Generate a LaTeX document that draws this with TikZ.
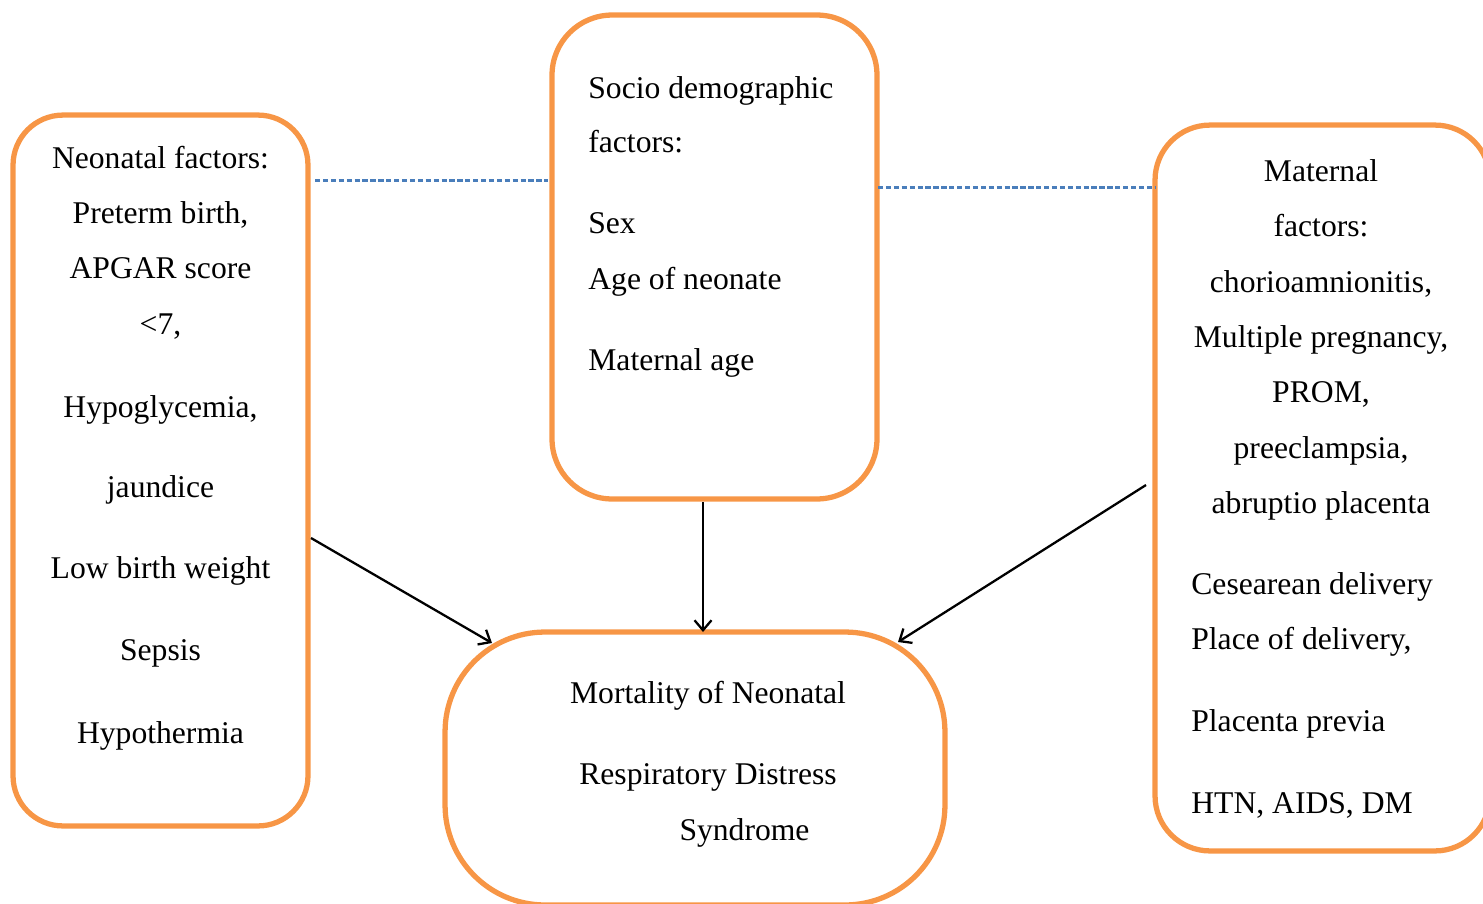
\documentclass[tikz,border=0pt]{standalone}
\usepackage{fontspec}
\setmainfont{Liberation Serif}
\usetikzlibrary{arrows.meta}
\definecolor{boxorange}{HTML}{F79646}
\definecolor{dashblue}{HTML}{4A7EBB}
\tikzset{
  box/.style={draw=boxorange, line width=3pt, rectangle, fill=none, inner sep=0pt},
  txt/.style={inner sep=0pt, anchor=base, font=\fontsize{18pt}{21.6pt}\selectfont},
  ltxt/.style={txt, anchor=base west},
  arr/.style={draw=black, line width=1.3pt, -{Straight Barb[length=0.2cm,width=0.34cm,line width=1.3pt]}},
  link/.style={draw=dashblue, line width=1.4pt, dash pattern=on 3pt off 1.5pt}
}
\begin{document}
\begin{tikzpicture}[x=0.02cm,y=-0.02cm]
\useasboundingbox (0,0) rectangle (1483,903);
% boxes
\node[box, minimum width=5.9cm, minimum height=14.22cm, rounded corners=1.0cm] (nf) at (160.5,470.5) {};
\node[box, minimum width=6.5cm, minimum height=9.68cm, rounded corners=1.2cm] (sd) at (714.5,257) {};
\node[box, minimum width=6.7cm, minimum height=14.52cm, rounded corners=1.1cm] (mf) at (1322.5,488) {};
\node[box, minimum width=10.0cm, minimum height=5.46cm, rounded corners=2.0cm] (mo) at (695,768.5) {};
% left box text
\node[txt] (n1) at (160.5,168) {Neonatal factors:};
\node[txt] (n2) at (160.5,223) {Preterm birth,};
\node[txt] (n3) at (160.5,278) {APGAR score};
\node[txt] (n4) at (160.5,334) {<7,};
\node[txt] (n5) at (160.5,417) {Hypoglycemia,};
\node[txt] (n6) at (160.5,497) {jaundice};
\node[txt] (n7) at (160.5,578) {Low birth weight};
\node[txt] (n8) at (160.5,660) {Sepsis};
\node[txt] (n9) at (160.5,743) {Hypothermia};
% middle box text
\node[ltxt] (s1) at (588,98) {Socio demographic};
\node[ltxt] (s2) at (588,152) {factors:};
\node[ltxt] (s3) at (588,233) {Sex};
\node[ltxt] (s4) at (588,289) {Age of neonate};
\node[ltxt] (s5) at (588,370) {Maternal age};
% right box text
\node[txt] (m1) at (1321,181) {Maternal};
\node[txt] (m2) at (1321,236) {factors:};
\node[txt] (m3) at (1321,292) {chorioamnionitis,};
\node[txt] (m4) at (1321,347) {Multiple pregnancy,};
\node[txt] (m5) at (1321,402) {PROM,};
\node[txt] (m6) at (1321,458) {preeclampsia,};
\node[txt] (m7) at (1321,513) {abruptio placenta};
\node[ltxt] (m8) at (1191,594) {Cesearean delivery};
\node[ltxt] (m9) at (1191,649) {Place of delivery,};
\node[ltxt] (m10) at (1191,731) {Placenta previa};
\node[ltxt] (m11) at (1191,813) {HTN, AIDS, DM};
% bottom box text
\node[txt] (o1) at (708,703) {Mortality of Neonatal};
\node[txt] (o2) at (708,784) {Respiratory Distress};
\node[txt] (o3) at (744.5,840) {Syndrome};
% connector end points
\coordinate (nfa) at (311,538);
\coordinate (moa) at (492,643);
\coordinate (sda) at (703,502);
\coordinate (mob) at (703,632);
\coordinate (mfa) at (1146,485);
\coordinate (moc) at (898,642);
\coordinate (nfd) at (315,180.5);
\coordinate (sdd) at (548,180.5);
\coordinate (sde) at (878,187.5);
\coordinate (mfd) at (1155,187.5);
% connectors
\draw[arr] (nfa) -- (moa);
\draw[arr] (sda) -- (mob);
\draw[arr] (mfa) -- (moc);
\draw[link] (nfd) -- (sdd);
\draw[link] (sde) -- (mfd);
\end{tikzpicture}
\end{document}
